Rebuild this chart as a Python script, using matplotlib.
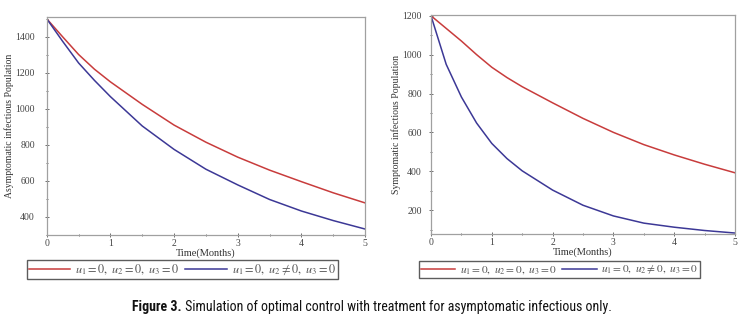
import matplotlib.pyplot as plt
import numpy as np

# values
t_a = [0, 0.25, 0.5, 0.75, 1, 1.5, 2, 2.5, 3, 3.5, 4, 4.5, 5]
asym_none = [1500, 1400, 1302, 1220, 1150, 1025, 910, 815, 732, 660, 596, 534, 478]
asym_treat = [1500, 1375, 1255, 1158, 1068, 905, 775, 665, 578, 497, 433, 380, 333]

t_s = [0, 0.25, 0.5, 0.75, 1, 1.25, 1.5, 2, 2.5, 3, 3.5, 4, 4.5, 5]
sym_none = [1200, 1135, 1070, 1000, 935, 882, 835, 752, 672, 600, 537, 484, 436, 392]
sym_treat = [1200, 950, 782, 648, 543, 465, 402, 303, 225, 170, 133, 112, 95, 82]

legend_labels = [r'$u_1 = 0,\ u_2 = 0,\ u_3 = 0$', r'$u_1 = 0,\ u_2 \neq 0,\ u_3 = 0$']
red = '#c83c3c'
blue = '#3c3896'

plt.rcParams['mathtext.fontset'] = 'stix'

fig = plt.figure(figsize=(7.44, 3.34), dpi=100)
ax1 = fig.add_axes([0.0628, 0.2964, 0.428, 0.6527])
ax2 = fig.add_axes([0.5793, 0.2994, 0.4086, 0.6557])


def style(ax, ylabel, ylim, yticks, ypad):
    ax.set_xlim(0, 5)
    ax.set_ylim(*ylim)
    ax.set_xticks([0, 1, 2, 3, 4, 5])
    ax.set_xticks(np.arange(0, 5.01, 0.5), minor=True)
    ax.set_yticks(yticks)
    ax.set_yticks(np.arange(yticks[0] - 100, ylim[1], 100), minor=True)
    for s in ax.spines.values():
        s.set_color('#a0a0a0')
        s.set_linewidth(0.9)
    ax.tick_params(which='both', direction='inout', colors='#555555',
                   labelsize=7, length=3, width=0.6, pad=1.5)
    ax.tick_params(axis='y', pad=ypad)
    ax.tick_params(which='minor', length=2)
    for lab in ax.get_xticklabels() + ax.get_yticklabels():
        lab.set_family('Liberation Serif')
        lab.set_color('#444444')
    ax.set_xlabel('Time(Months)', family='Liberation Serif', fontsize=7.5,
                  color='#333333', labelpad=0)
    ax.set_ylabel(ylabel, family='Liberation Serif', fontsize=7,
                  color='#333333', labelpad=1)


ax1.plot(t_a, asym_none, color=red, lw=1.1, label=legend_labels[0])
ax1.plot(t_a, asym_treat, color=blue, lw=1.1, label=legend_labels[1])
style(ax1, 'Asymptomatic infectious Population', (324, 1510),
      [400, 600, 800, 1000, 1200, 1400], 7)

ax2.plot(t_s, sym_none, color=red, lw=1.1, label=legend_labels[0])
ax2.plot(t_s, sym_treat, color=blue, lw=1.1, label=legend_labels[1])
style(ax2, 'Symptomatic infectious Population', (77, 1204),
      [200, 400, 600, 800, 1000, 1200], 5)

for ax, cx, fs, hl in [(ax1, 0.245, 8.8, 3.4), (ax2, 0.752, 8.2, 3.0)]:
    leg = ax.legend(loc='center', bbox_to_anchor=(cx, 0.193),
                    bbox_transform=fig.transFigure, ncol=2, fontsize=fs,
                    frameon=True, fancybox=False, handlelength=hl,
                    borderpad=0.15, columnspacing=0.5, handletextpad=0.4,
                    borderaxespad=0)
    leg.get_frame().set_edgecolor('#333333')
    leg.get_frame().set_linewidth(1.0)
    for txt in leg.get_texts():
        txt.set_color('#555555')

# caption: bold "Figure 3." followed by the regular text, fitted to the reference width
cap_family = ['Roboto Condensed', 'Liberation Sans Narrow', 'Liberation Sans', 'DejaVu Sans']
head = 'Figure 3.'
body = ' Simulation of optimal control with treatment for asymptomatic infectious only.'
fs = 12
r = fig.canvas.get_renderer()
t1 = fig.text(0, 0.082, head, fontsize=fs, weight='bold', family=cap_family,
              va='center', color='#111111')
t2 = fig.text(0, 0.082, body, fontsize=fs, family=cap_family, va='center',
              color='#111111')
w = t1.get_window_extent(r).width + t2.get_window_extent(r).width
fs = fs * 480 / w
t1.set_fontsize(fs)
t2.set_fontsize(fs)
w1 = t1.get_window_extent(r).width
w2 = t2.get_window_extent(r).width
x0 = (744 - w1 - w2) / 2
t1.set_x(x0 / 744)
t2.set_x((x0 + w1) / 744)

fig.savefig('out.png', dpi=100)
